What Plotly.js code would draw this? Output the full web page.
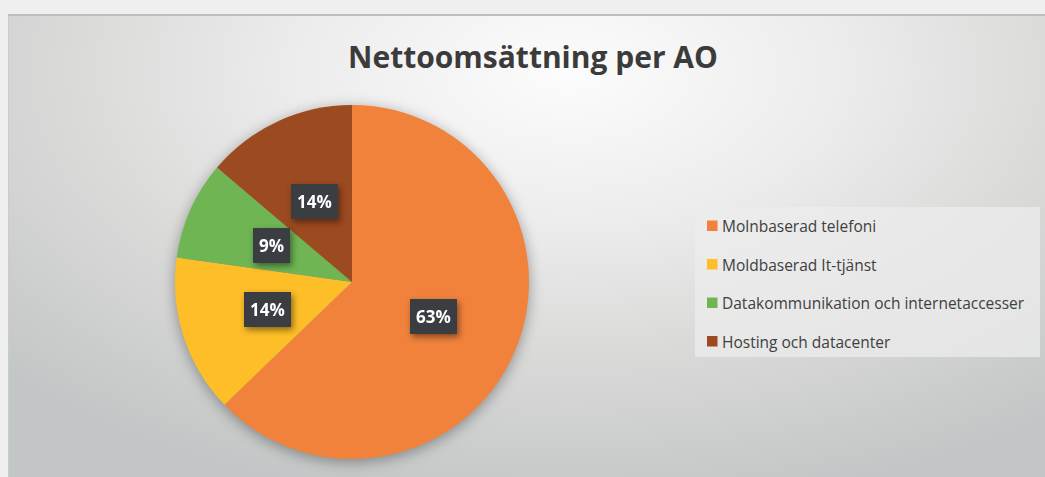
<!DOCTYPE html>
<html>
<head>
<meta charset="utf-8">
<script src="https://cdn.plot.ly/plotly-3.0.1.min.js"></script>
<style>
  html, body { margin: 0; padding: 0; width: 1045px; height: 477px; overflow: hidden; background: #efefef; }
  #bg { position: absolute; left: 8px; top: 14px; width: 1037px; height: 463px;
        border-top: 2px solid #b9bdbd; border-left: 1px solid #c9cccc; box-sizing: border-box;
        background: radial-gradient(ellipse 75% 95% at 54% 12%, #fcfcfc 0%, #ececec 35%, #d9d9d8 65%, #c3c6c6 100%); }
  #chart { position: absolute; left: 0; top: 0; width: 1045px; height: 477px; }
  .pielayer .trace { filter: drop-shadow(0px 3px 7px rgba(0,0,0,0.35)); }
  .lbl-shadow { filter: drop-shadow(2px 3px 3px rgba(0,0,0,0.45)); }
</style>
</head>
<body>
<div id="bg"></div>
<div id="chart"></div>
<script>
// ---- data ----
const categories = ["Molnbaserad telefoni", "Moldbaserad It-tjänst", "Datakommunikation och internetaccesser", "Hosting och datacenter"];
const values = [62.8, 14.4, 9.0, 13.8];
const colors = ["#F0823B", "#FDBE27", "#6FB554", "#9C4A1F"];
const chartTitle = "Nettoomsättning per AO";

// ---- layout geometry ----
const W = 1045, H = 477;
const pieCx = 352, pieCy = 282, pieR = 177;   // pixels
const domX = [(pieCx - pieR) / W, (pieCx + pieR) / W];
const domY = [(H - pieCy - pieR) / H, (H - pieCy + pieR) / H];

const total = values.reduce((a, b) => a + b, 0);

// label annotations at half radius, mid-angle of each slice (clockwise from top)
const annotations = [];
let acc = 0;
values.forEach((v, i) => {
  const mid = (acc + v / 2) / total * 2 * Math.PI;
  acc += v;
  const px = pieCx + 0.5 * pieR * Math.sin(mid);
  const py = pieCy - 0.5 * pieR * Math.cos(mid);
  annotations.push({
    x: px / W, y: 1 - py / H, xref: 'paper', yref: 'paper',
    text: Math.round(v / total * 100) + '%',
    showarrow: false, xanchor: 'center', yanchor: 'middle',
    bgcolor: '#3a3d42', borderpad: 6, borderwidth: 0,
    font: { family: 'Open Sans, sans-serif', size: 17, color: '#ffffff', weight: 'bold' }
  });
});

// custom legend (box + swatches + text)
const legX0 = 695, legY0 = 207, legX1 = 1040, legY1 = 357;
const shapes = [{
  type: 'rect', xref: 'paper', yref: 'paper',
  x0: legX0 / W, x1: legX1 / W, y0: 1 - legY1 / H, y1: 1 - legY0 / H,
  fillcolor: 'rgba(236,236,236,0.75)', line: { width: 0 }, layer: 'below'
}];
const rowY = [226, 264.5, 303, 341.5];
categories.forEach((c, i) => {
  shapes.push({
    type: 'rect', xref: 'paper', yref: 'paper',
    x0: 707 / W, x1: 717.5 / W, y0: 1 - (rowY[i] + 5) / H, y1: 1 - (rowY[i] - 5.5) / H,
    fillcolor: colors[i], line: { width: 0 }
  });
  annotations.push({
    x: 720 / W, y: 1 - rowY[i] / H, xref: 'paper', yref: 'paper',
    text: c, showarrow: false, xanchor: 'left', yanchor: 'middle',
    font: { family: 'Open Sans, sans-serif', size: 15.5, color: '#404040' }
  });
});

const data = [{
  type: 'pie',
  labels: categories,
  values: values,
  sort: false,
  direction: 'clockwise',
  rotation: 0,
  marker: { colors: colors, line: { width: 0 } },
  textinfo: 'none',
  hoverinfo: 'label+percent',
  domain: { x: domX, y: domY },
  showlegend: false
}];

const layout = {
  width: W, height: H,
  margin: { l: 0, r: 0, t: 0, b: 0 },
  paper_bgcolor: 'rgba(0,0,0,0)',
  plot_bgcolor: 'rgba(0,0,0,0)',
  showlegend: false,
  title: {
    text: '<b>' + chartTitle + '</b>',
    x: 533 / W, xanchor: 'center', xref: 'paper',
    y: 1 - 57 / H, yanchor: 'middle', yref: 'paper',
    font: { family: 'Open Sans, sans-serif', size: 30, color: '#3b3b3b' }
  },
  annotations: annotations,
  shapes: shapes
};

Plotly.newPlot('chart', data, layout, { displayModeBar: false, staticPlot: true }).then(() => {
  document.querySelectorAll('.annotation').forEach((g, i) => {
    if (i < values.length) g.classList.add('lbl-shadow');
  });
});
</script>
</body>
</html>
